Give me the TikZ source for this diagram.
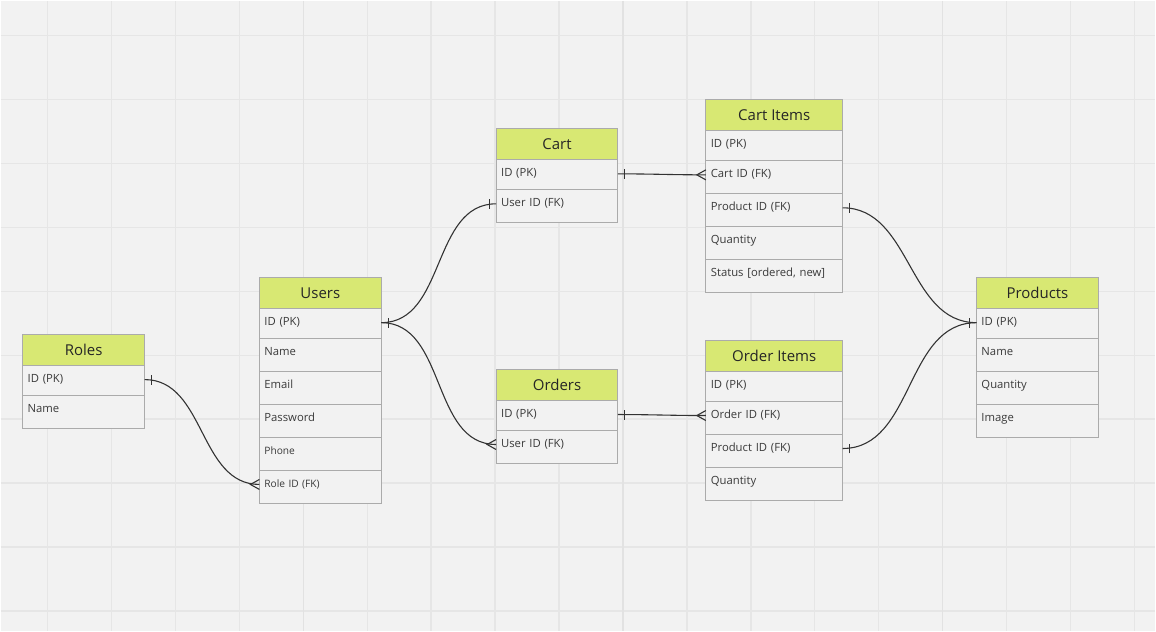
\documentclass[tikz,border=0pt]{standalone}
\usepackage{fontspec}
\setmainfont{Open Sans}
\usetikzlibrary{positioning}

\definecolor{bggrey}{HTML}{F2F2F2}
\definecolor{gridline}{HTML}{E6E6E6}
\definecolor{gridmajor}{HTML}{E2E2E2}
\definecolor{boxgrey}{HTML}{ABABAB}
\definecolor{headgreen}{HTML}{D8E873}
\definecolor{linegrey}{HTML}{333333}
\definecolor{textgrey}{HTML}{3A3A3A}

\tikzset{
  table/.style={rectangle,draw=boxgrey,fill=headgreen,line width=1pt,outer sep=0pt,inner sep=0pt,
    minimum height=31pt,anchor=north west,text=black!85,font=\fontsize{15}{18}\selectfont},
  field/.style={rectangle,draw=boxgrey,fill=bggrey,line width=1pt,outer sep=0pt,inner xsep=5pt,inner ysep=0pt,
    text height=17pt,text depth=16pt,align=left,text=textgrey,font=\fontsize{11.3}{13}\selectfont},
  key/.style={field,text depth=13pt},
  small/.style={font=\fontsize{10.2}{12}\selectfont},
  link/.style={draw=linegrey,line width=1.1pt},
  pics/one out/.style={code={\draw[linegrey,line width=1.1pt] (7pt,-5pt) -- (7pt,5pt);}},
  pics/one in/.style={code={\draw[linegrey,line width=1.1pt] (-7pt,-5pt) -- (-7pt,5pt);}},
  pics/many in/.style={code={\draw[linegrey,line width=1.1pt] (0pt,-5pt) -- (-9pt,0pt) -- (0pt,5pt);}}
}

\begin{document}
\begin{tikzpicture}[x=1pt,y=-1pt]
  % canvas and grid
  \fill[bggrey] (0,0) rectangle (1156,631);
  \foreach \x in {47,111,...,1135}
    \draw[gridline,line width=1.5pt] (\x,0) -- (\x,631);
  \foreach \y in {35,99,...,611}
    \draw[gridline,line width=1.5pt] (0,\y) -- (1156,\y);
  \foreach \x in {303,623,943}
    \draw[gridmajor,line width=1.5pt] (\x,0) -- (\x,631);

  % Roles
  \node[table,minimum width=122pt] (roles) at (22,334) {Roles};
  \node[key,text width=112pt,below right=0pt and 0pt of roles.south west] (roles-id) {ID (PK)};
  \node[field,text width=112pt,below right=0pt and 0pt of roles-id.south west] (roles-name) {Name};

  % Users
  \node[table,minimum width=122pt] (users) at (259,277) {Users};
  \node[key,text width=112pt,below right=0pt and 0pt of users.south west] (users-id) {ID (PK)};
  \node[field,text width=112pt,below right=0pt and 0pt of users-id.south west] (users-name) {Name};
  \node[field,text width=112pt,below right=0pt and 0pt of users-name.south west] (users-email) {Email};
  \node[field,text width=112pt,below right=0pt and 0pt of users-email.south west] (users-pass) {Password};
  \node[field,small,text width=112pt,below right=0pt and 0pt of users-pass.south west] (users-phone) {Phone};
  \node[field,small,text width=112pt,below right=0pt and 0pt of users-phone.south west] (users-role) {Role ID (FK)};

  % Cart
  \node[table,minimum width=122pt] (cart) at (496,128) {Cart};
  \node[key,text width=112pt,below right=0pt and 0pt of cart.south west] (cart-id) {ID (PK)};
  \node[field,text width=112pt,below right=0pt and 0pt of cart-id.south west] (cart-user) {User ID (FK)};

  % Orders
  \node[table,minimum width=122pt] (orders) at (496,369) {Orders};
  \node[key,text width=112pt,below right=0pt and 0pt of orders.south west] (orders-id) {ID (PK)};
  \node[field,text width=112pt,below right=0pt and 0pt of orders-id.south west] (orders-user) {User ID (FK)};

  % Cart Items
  \node[table,minimum width=137pt] (cartitems) at (706,99) {Cart Items};
  \node[key,text width=127pt,below right=0pt and 0pt of cartitems.south west] (ci-id) {ID (PK)};
  \node[field,text width=127pt,below right=0pt and 0pt of ci-id.south west] (ci-cart) {Cart ID (FK)};
  \node[field,text width=127pt,below right=0pt and 0pt of ci-cart.south west] (ci-product) {Product ID (FK)};
  \node[field,text width=127pt,below right=0pt and 0pt of ci-product.south west] (ci-qty) {Quantity};
  \node[field,text width=127pt,below right=0pt and 0pt of ci-qty.south west] (ci-status) {Status [ordered, new]};

  % Order Items
  \node[table,minimum width=137pt] (orderitems) at (706,340) {Order Items};
  \node[key,text width=127pt,below right=0pt and 0pt of orderitems.south west] (oi-id) {ID (PK)};
  \node[field,text width=127pt,below right=0pt and 0pt of oi-id.south west] (oi-order) {Order ID (FK)};
  \node[field,text width=127pt,below right=0pt and 0pt of oi-order.south west] (oi-product) {Product ID (FK)};
  \node[field,text width=127pt,below right=0pt and 0pt of oi-product.south west] (oi-qty) {Quantity};

  % Products
  \node[table,minimum width=122pt] (products) at (977,277) {Products};
  \node[key,text width=112pt,below right=0pt and 0pt of products.south west] (products-id) {ID (PK)};
  \node[field,text width=112pt,below right=0pt and 0pt of products-id.south west] (products-name) {Name};
  \node[field,text width=112pt,below right=0pt and 0pt of products-name.south west] (products-qty) {Quantity};
  \node[field,text width=112pt,below right=0pt and 0pt of products-qty.south west] (products-image) {Image};

  % relations
  \draw[link] (roles-id.mid east) pic{one out} to[out=0,in=180] (users-role.mid west) pic{many in};
  \draw[link] (users-id.mid east) pic{one out} to[out=0,in=180] (cart-user.mid west) pic{one in};
  \draw[link] (users-id.mid east) to[out=0,in=180] (orders-user.mid west) pic{many in};
  \draw[link] (cart-id.mid east) pic{one out} to[out=0,in=180] (ci-cart.mid west) pic{many in};
  \draw[link] (orders-id.mid east) pic{one out} to[out=0,in=180] (oi-order.mid west) pic{many in};
  \draw[link] (ci-product.mid east) pic{one out} to[out=0,in=180] (products-id.mid west) pic{one in};
  \draw[link] (oi-product.mid east) pic{one out} to[out=0,in=180] (products-id.mid west);
\end{tikzpicture}
\end{document}
